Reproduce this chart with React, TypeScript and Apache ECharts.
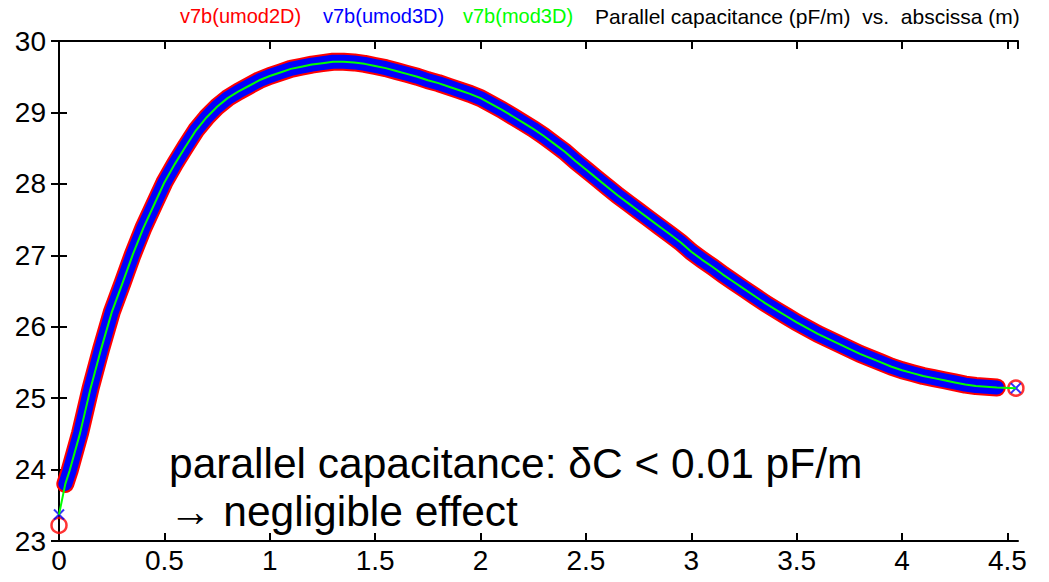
import React, { useEffect, useRef } from "react";
import * as echarts from "echarts";

// abscissa (m) of the dense sampled points
const abscissa = [
  0.03, 0.05, 0.1, 0.15, 0.2, 0.25, 0.3, 0.35, 0.4, 0.45, 0.5, 0.55, 0.6, 0.65, 0.7, 0.75, 0.8, 0.85, 0.9, 0.95,
  1.0, 1.05, 1.1, 1.15, 1.2, 1.25, 1.3, 1.35, 1.4, 1.45, 1.5, 1.55, 1.6, 1.65, 1.7, 1.75, 1.8, 1.85, 1.9, 1.95,
  2.0, 2.05, 2.1, 2.15, 2.2, 2.25, 2.3, 2.35, 2.4, 2.45, 2.5, 2.55, 2.6, 2.65, 2.7, 2.75, 2.8, 2.85, 2.9, 2.95,
  3.0, 3.05, 3.1, 3.15, 3.2, 3.25, 3.3, 3.35, 3.4, 3.45, 3.5, 3.55, 3.6, 3.65, 3.7, 3.75, 3.8, 3.85, 3.9, 3.95,
  4.0, 4.05, 4.1, 4.15, 4.2, 4.25, 4.3, 4.35, 4.4, 4.45,
];

// parallel capacitance (pF/m) — the three models agree within 0.01 pF/m
const capacitance = [
  23.8, 23.98, 24.51, 25.14, 25.69, 26.2, 26.6, 27.01, 27.38, 27.7, 28.02, 28.28, 28.52, 28.75, 28.93, 29.08, 29.2, 29.29, 29.37, 29.45,
  29.51, 29.56, 29.61, 29.64, 29.67, 29.69, 29.71, 29.71, 29.7, 29.68, 29.65, 29.62, 29.58, 29.54, 29.5, 29.45, 29.41, 29.36, 29.31, 29.26,
  29.2, 29.12, 29.04, 28.95, 28.86, 28.77, 28.67, 28.56, 28.45, 28.32, 28.2, 28.08, 27.96, 27.84, 27.73, 27.62, 27.51, 27.4, 27.29, 27.18,
  27.05, 26.94, 26.84, 26.73, 26.63, 26.53, 26.43, 26.33, 26.24, 26.15, 26.06, 25.98, 25.9, 25.83, 25.76, 25.69, 25.62, 25.56, 25.5, 25.44,
  25.39, 25.35, 25.31, 25.28, 25.25, 25.22, 25.19, 25.17, 25.16, 25.15,
];

// isolated end points
const edgeAbscissa = [0, 4.54];
const edgeUmod2D = [23.22, 25.14];
const edgeUmod3D = [23.37, 25.14];
const edgeMod3D = [23.37, 25.14];

const xTicks = ["0", "0.5", "1", "1.5", "2", "2.5", "3", "3.5", "4", "4.5"];
const yTicks = ["23", "24", "25", "26", "27", "28", "29", "30"];

const legendTitles = [
  { text: "v7b(umod2D)", color: "#ff0000" },
  { text: "v7b(umod3D)", color: "#0000ff" },
  { text: "v7b(mod3D)", color: "#00ff00" },
  { text: "Parallel capacitance (pF/m)  vs.  abscissa (m)", color: "#000000" },
];
const titleX = [180, 323, 463, 595];
const titleSize = [20, 20, 20, 21];

const noteLines = ["parallel capacitance: \u03b4C < 0.01 pF/m", "\u2192 negligible effect"];

const FONT = "'Liberation Sans', Arial, Helvetica, sans-serif";

export default function App() {
  const ref = useRef<HTMLDivElement>(null);
  useEffect(() => {
    const chart = echarts.init(ref.current!, null, { renderer: "svg" });
    const band = abscissa.map((x, i) => [x, capacitance[i]]);
    const green = [
      [edgeAbscissa[0], edgeMod3D[0]],
      ...band,
      [edgeAbscissa[1], edgeMod3D[1]],
    ];
    const axisLine = { lineStyle: { color: "#000", width: 2 } };
    const axisTick = { inside: true, length: 8, lineStyle: { color: "#000", width: 2 } };
    chart.setOption({
      animation: false,
      backgroundColor: "#fff",
      grid: { left: 59, right: 31, top: 41, bottom: 41, containLabel: false },
      xAxis: [
        {
          type: "value", min: 0, max: 4.55, interval: 0.5, position: "bottom",
          axisLine, axisTick, splitLine: { show: false },
          axisLabel: {
            showMaxLabel: false, margin: 5, color: "#000", fontSize: 28, fontFamily: FONT,
            formatter: (v: number) => xTicks[Math.round(v / 0.5)] ?? "",
          },
        },
        {
          type: "value", min: 0, max: 4.55, interval: 0.5, position: "top",
          axisLine, axisTick, splitLine: { show: false }, axisLabel: { show: false },
        },
      ],
      yAxis: [
        {
          type: "value", min: 23, max: 30, interval: 1, position: "left",
          axisLine, axisTick, splitLine: { show: false },
          axisLabel: {
            margin: 13, color: "#000", fontSize: 28, fontFamily: FONT,
            formatter: (v: number) => yTicks[Math.round(v - 23)] ?? "",
          },
        },
        {
          type: "value", min: 23, max: 30, interval: 1, position: "right",
          axisLine, axisTick, splitLine: { show: false }, axisLabel: { show: false },
        },
      ],
      series: [
        {
          name: "v7b(umod2D)", type: "line", data: band, symbol: "none",
          lineStyle: { color: "#ff0000", width: 18, cap: "round", join: "round" },
        },
        {
          name: "v7b(umod3D)", type: "line", data: band, symbol: "none",
          lineStyle: { color: "#0000ff", width: 14, cap: "round", join: "round" },
        },
        {
          name: "v7b(umod2D) ends", type: "scatter",
          data: edgeAbscissa.map((x, i) => [x, edgeUmod2D[i]]),
          symbol: "circle", symbolSize: 15,
          itemStyle: { color: "rgba(0,0,0,0)", borderColor: "#ff0000", borderWidth: 2.5 },
        },
        {
          name: "v7b(umod3D) ends", type: "scatter",
          data: edgeAbscissa.map((x, i) => [x, edgeUmod3D[i]]),
          symbol: "path://M0,0L10,10M10,0L0,10", symbolSize: 10,
          itemStyle: { color: "rgba(0,0,0,0)", borderColor: "#0000ff", borderWidth: 2 },
        },
        {
          name: "v7b(mod3D)", type: "line", data: green, symbol: "none",
          lineStyle: { color: "#00ff00", width: 2 },
        },
      ],
      graphic: [
        ...legendTitles.map((t, i) => ({
          type: "text", left: titleX[i], top: 6,
          style: { text: t.text, fill: t.color, fontSize: titleSize[i], fontFamily: FONT },
        })),
        ...noteLines.map((t, i) => ({
          type: "text", left: 169, top: 442 + i * 48,
          style: { text: t, fill: "#000", fontSize: 42.5, fontFamily: FONT },
        })),
      ],
    });
    return () => chart.dispose();
  }, []);
  return (
    <div
      ref={ref}
      style={{ position: "fixed", left: 0, top: 0, width: 1049, height: 582 }}
    />
  );
}
